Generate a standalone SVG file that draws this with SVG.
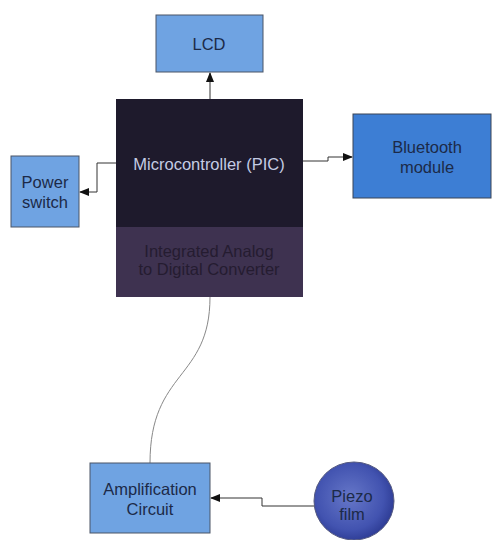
<svg xmlns="http://www.w3.org/2000/svg" width="492" height="540" viewBox="0 0 492 540">
<style>
.box{fill:#6fa3e2;stroke:#4a5566;stroke-width:1}
.lbl{font-family:"Liberation Sans",Arial,sans-serif;font-size:16.5px;fill:#1c2a48;text-anchor:middle}
.conn{fill:none;stroke:#333;stroke-width:1}
</style>
<defs>
<marker id="arr" markerWidth="10" markerHeight="8" refX="9" refY="4" orient="auto" markerUnits="userSpaceOnUse">
<path d="M0,0 L10,4 L0,8 Z" fill="#111"/>
</marker>
<radialGradient id="pz" cx="0.45" cy="0.45" r="0.6">
<stop offset="0" stop-color="#6677c8"/>
<stop offset="0.7" stop-color="#4253b0"/>
<stop offset="1" stop-color="#2a3890"/>
</radialGradient>
</defs>
<rect width="492" height="540" fill="#fff"/>
<g id="connectors">
<path class="conn" d="M210,99 V73" marker-end="url(#arr)"/>
<path class="conn" d="M116,163 H97 V192 H80" marker-end="url(#arr)"/>
<path class="conn" d="M303,161 H328 V157 H352" marker-end="url(#arr)"/>
<path class="conn" d="M210,297 C210,380 150,370 150,463" style="stroke:#888"/>
<path class="conn" d="M314,506 H262 V498 H211" marker-end="url(#arr)"/>
</g>
<g id="lcd">
<rect class="box" x="156" y="15" width="107" height="57"/>
<text class="lbl" x="209" y="50">LCD</text>
</g>
<g id="power">
<rect class="box" x="11" y="156" width="68" height="71"/>
<text class="lbl" x="45" y="188">Power</text>
<text class="lbl" x="45" y="208">switch</text>
</g>
<g id="micro">
<rect x="116" y="99" width="187" height="128" fill="#1e1a2c"/>
<rect x="116" y="227" width="187" height="70" fill="#3e3250"/>
<text class="lbl" x="209" y="170" style="fill:#c4cce4">Microcontroller (PIC)</text>
<text class="lbl" x="209" y="257" style="fill:#251c30">Integrated Analog</text>
<text class="lbl" x="209" y="275" style="fill:#251c30">to Digital Converter</text>
</g>
<g id="bluetooth">
<rect x="353" y="114" width="138" height="84" fill="#3d7ed4" stroke="#3a4456"/>
<text class="lbl" x="427" y="153">Bluetooth</text>
<text class="lbl" x="427" y="173">module</text>
</g>
<g id="amp">
<rect class="box" x="90" y="463" width="120" height="70"/>
<text class="lbl" x="150" y="495">Amplification</text>
<text class="lbl" x="150" y="515">Circuit</text>
</g>
<g id="piezo">
<ellipse cx="354" cy="501" rx="40" ry="39" fill="url(#pz)" stroke="#555a80"/>
<text class="lbl" x="352" y="502">Piezo</text>
<text class="lbl" x="352" y="520">film</text>
</g>
</svg>
